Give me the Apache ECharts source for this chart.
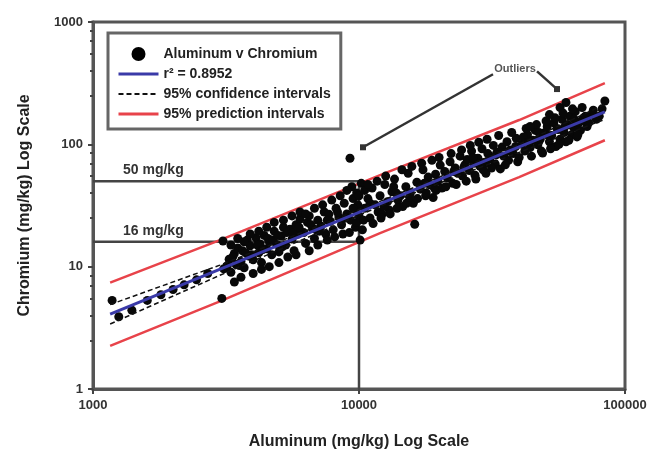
<!DOCTYPE html>
<html><head><meta charset="utf-8">
<script src="https://cdn.jsdelivr.net/npm/echarts@6/dist/echarts.min.js"></script>
<style>html,body{margin:0;padding:0;background:#fff}#c{width:650px;height:455px}</style>
</head><body><div id="c"></div>
<script>
// ---- data ----
const aluminum = [
1180,1250,1400,1600,1800,2000,2200,2450,2700,3050,3080,3100,3200,
3250,3300,3400,3450,3500,3600,3650,3700,3800,3850,3900,4000,4100,4200,4250,4300,4400,4500,4600,4700,4800,4900,5000,5100,5200,5300,5500,5600,5700,5800,5900,6000,
6200,6300,6400,6500,6700,6800,7000,7200,7400,7500,7700,7800,8000,8200,8400,8600,8800,9000,9250,9300,9400,9500,9600,9700,9800,9900,10000,10000,10100,10200,10300,10500,
10500,10800,11000,11200,11500,11800,12000,12200,12500,12800,13000,13300,13600,14000,14300,14600,15000,15300,15600,16000,16200,16500,17000,17400,17800,18200,18500,19000,19400,19800,20200,20500,
21000,21500,22000,22500,23000,23500,24000,24500,25000,25500,26000,26500,27000,27500,28000,28500,29000,29500,30000,30500,31000,32000,32500,33000,34000,34500,35000,36000,36500,37000,38000,39000,40000,
41000,42000,43000,44000,45000,46000,47000,48000,49000,50000,51000,52000,53000,54000,55000,56000,57000,57000,58000,59000,60000,60000,61000,62000,63000,64000,65000,66000,67000,68000,70000,72000,75000,78000,84000,
3300,3400,3500,3600,3700,3900,4000,4200,4300,4500,4600,4800,5000,5200,5400,5600,5800,6000,
6300,6500,6800,7000,7300,7600,7900,8100,8500,8700,9000,9200,9500,9800,
10400,10800,11300,11700,12100,12600,13100,13500,13900,14500,15100,15800,16600,17200,17900,18800,19500,20000,
21200,22200,23200,24300,25300,26200,27300,28200,29300,30300,31500,33500,35500,37500,39500,
42500,44500,46500,48500,50500,52500,54500,56500,58500,61500,63500,66500,69000,73000,76000,80000,82000,44000,52000,48000,
3350,3550,3750,3950,4150,4350,4550,4750,4950,5150,5350,5650,5950,
6600,6900,7100,7600,8300,8900,11000,12400,13800,15500,17600,19200,22700,24800,26800,29800,32800,36800,38800,41500,43500,47500,51500,55500,59500,64500,68500,71000
];
const chromium = [
5.3,3.9,4.4,5.3,5.9,6.5,7.1,7.8,8.8,5.5,16.2,9.6,10.2,
11.5,9.0,12.8,10.4,14.2,11.0,13.5,9.8,16.5,12.2,14.8,11.4,17.2,13.0,15.3,10.8,18.0,14.0,16.0,12.5,19.5,15.2,13.2,17.8,21.0,15.0,20.2,16.8,13.5,22.0,18.5,24.5,
19.0,15.5,23.0,26.0,20.5,17.0,24.0,21.5,28.0,18.5,26.8,23.5,20.0,30.0,25.5,22.0,33.0,27.0,77,24.0,45,36.0,29.5,21.0,40.0,32.0,26.0,38,16.5,48,20,42,
30,36,25,44,32,28,38,26.8,47,34,29,41,52,35,38,31,45,58,40,33,22.2,49,43,62,38,54,46.7,36.7,57,50,67.7,44,
60,53,72,48,64,58,80,55,68,75,61,88,70,52,77,66,92,71,58,84,76,98,69,86,63,95,80,105,74,90,84,112,78,
100,88,120,94,108,130,99,115,85,125,140,105,118,150,96,132,110,200,160,125,105,220,145,170,120,138,185,115,150,130,165,140,175,160,226,
15,7.5,17,8.2,16,18.5,8.8,19.5,9.5,21,10,23,10.8,24,12,26,12.5,28,
27,13.5,30,15,32,16.5,35,17.5,38,18.5,42,19,30,23,
24,47,22.5,50,25,55,27,45,30,62,33,66,36,70,40,74,42,78,
45,84,47,90,50,98,56,104,62,110,64,118,68,125,72,
135,80,145,88,155,92,165,100,180,108,195,120,200,150,190,170,195,140,175,110,
12,10.2,13,12.5,15,13.8,17,16.5,18,14.5,19,19,21,
22,20,19.5,24,28,25,33,31,40,37,48,44,60,65,78,70,82,88,96,115,105,125,118,135,140,160,155,170
];
const fitAl = [1160, 84000];
const fitCr = [4.1, 184];
const bandAl = [1160, 3000, 12000, 40000, 84000];
const confUpper = [4.9, 10.3, 34.2, 100, 212];
const confLower = [3.4, 8.5, 31.2, 86, 160];
const predUpper = [7.4, 16.5, 56, 158, 316];
const predLower = [2.25, 5.2, 18.8, 54, 108];
const refLevels = [50, 16];          // mg/kg
const refLabels = ['50 mg/kg', '16 mg/kg'];
const refAlStart = 1000, refAlEnd = 10000;
const outlierPointers = [[[31900, 374], [10350, 94.6]], [[46700, 395], [55500, 283]]];
const outlierText = 'Outliers';
const xTicks = [1000, 10000, 100000];
const yTicks = [1, 10, 100, 1000];
const legendNames = ['Aluminum v Chromium', 'r\u00B2 = 0.8952', '95% confidence intervals', '95% prediction intervals'];

// ---- chart ----
const FONT = '"Liberation Sans", Arial, sans-serif';
const pts = aluminum.map((a, i) => [a, chromium[i]]);
const toPairs = (xs, ys) => xs.map((x, i) => [x, ys[i]]);
const BLUE = '#3a3aa8', RED = '#e8434a';
const series = [];
series.push({type:'line', name:'ref50', silent:true, symbol:'none', z:1,
  data:[[refAlStart, refLevels[0]], [refAlEnd, refLevels[0]], [refAlEnd, 1]],
  lineStyle:{color:'#444', width:2.5}});
series.push({type:'line', name:'ref16', silent:true, symbol:'none', z:1,
  data:[[refAlStart, refLevels[1]], [refAlEnd, refLevels[1]]],
  lineStyle:{color:'#444', width:2.5}});
series.push({type:'line', name:legendNames[3], symbol:'none', z:2, data:toPairs(bandAl, predUpper), lineStyle:{color:RED, width:2.5}, itemStyle:{color:RED}});
series.push({type:'line', name:legendNames[3], symbol:'none', z:2, data:toPairs(bandAl, predLower), lineStyle:{color:RED, width:2.5}, itemStyle:{color:RED}});
series.push({type:'scatter', name:legendNames[0], z:3, symbol:'circle', symbolSize:9, data:pts, itemStyle:{color:'#080808', opacity:1}});
series.push({type:'line', name:legendNames[2], symbol:'none', z:4, data:toPairs(bandAl, confUpper), lineStyle:{color:'#111', width:1.5, type:[5,3]}, itemStyle:{color:'#111'}});
series.push({type:'line', name:legendNames[2], symbol:'none', z:4, data:toPairs(bandAl, confLower), lineStyle:{color:'#111', width:1.5, type:[5,3]}, itemStyle:{color:'#111'}});
series.push({type:'line', name:legendNames[1], symbol:'none', z:5, data:toPairs(fitAl, fitCr), lineStyle:{color:BLUE, width:3}, itemStyle:{color:BLUE}});
outlierPointers.forEach((p, k) => {
  series.push({type:'line', name:'ptr'+k, silent:true, z:6,
    data:[{value:p[0], symbol:'none'}, {value:p[1], symbol:'rect', symbolSize:6}],
    lineStyle:{color:'#333', width:2.5}, itemStyle:{color:'#333'}});
});

const noSym = {color:'rgba(0,0,0,0)', borderWidth:0, opacity:0};
const chart = echarts.init(document.getElementById('c'), null, {renderer:'canvas'});
chart.setOption({
  animation:false,
  backgroundColor:'#fff',
  textStyle:{fontFamily:FONT},
  grid:{left:93, right:25, top:22, bottom:63, show:true, borderColor:'#555', borderWidth:3, backgroundColor:'transparent'},
  legend:{orient:'vertical', left:108, top:33, padding:[14,10,8,9], itemGap:6, itemWidth:40, itemHeight:14,
    backgroundColor:'#fff', borderColor:'#666', borderWidth:3,
    textStyle:{fontFamily:FONT, fontSize:14, fontWeight:'bold', color:'#222'},
    data:[{name:legendNames[0], icon:'circle', itemStyle:{color:'#000'}},
          {name:legendNames[1], itemStyle:noSym, lineStyle:{color:BLUE, width:3}},
          {name:legendNames[2], itemStyle:noSym, lineStyle:{color:'#111', width:2, type:[5,3]}},
          {name:legendNames[3], itemStyle:noSym, lineStyle:{color:RED, width:3}}]},
  xAxis:{type:'log', logBase:10, min:xTicks[0], max:xTicks[xTicks.length-1],
    name:'Aluminum (mg/kg) Log Scale', nameLocation:'middle', nameGap:45,
    nameTextStyle:{fontFamily:FONT, fontSize:16, fontWeight:'bold', color:'#222'},
    axisLine:{lineStyle:{color:'#555', width:3}},
    axisTick:{show:true, length:5, lineStyle:{color:'#444', width:2}},
    splitLine:{show:false},
    axisLabel:{fontFamily:FONT, fontSize:13, fontWeight:'bold', color:'#333', margin:10, formatter:v => String(Math.round(v))}},
  yAxis:{type:'log', logBase:10, min:yTicks[0], max:yTicks[yTicks.length-1],
    name:'Chromium (mg/kg) Log Scale', nameLocation:'middle', nameGap:60,
    nameTextStyle:{fontFamily:FONT, fontSize:16, fontWeight:'bold', color:'#222'},
    axisLine:{lineStyle:{color:'#555', width:3}},
    axisTick:{show:true, length:5, lineStyle:{color:'#444', width:2}},
    minorTick:{show:true, splitNumber:6, length:3, lineStyle:{color:'#444', width:2}},
    splitLine:{show:false}, minorSplitLine:{show:false},
    axisLabel:{fontFamily:FONT, fontSize:13, fontWeight:'bold', color:'#333', margin:10, formatter:v => String(Math.round(v))}},
  series:series
});

function place(){
  const g = [];
  refLevels.forEach((lv, i) => {
    const p = chart.convertToPixel({gridIndex:0}, [refAlStart, lv]);
    g.push({type:'text', left:p[0]+30, top:p[1]-18, style:{text:refLabels[i], font:'bold 14px '+FONT, fill:'#333'}});
  });
  const p0 = outlierPointers[0][0], p1 = outlierPointers[1][0];
  const a = chart.convertToPixel({gridIndex:0}, p0), b = chart.convertToPixel({gridIndex:0}, p1);
  g.push({type:'text', x:(a[0]+b[0])/2, y:(a[1]+b[1])/2 - 4, style:{text:outlierText, font:'bold 11px '+FONT, fill:'#555', align:'center', verticalAlign:'middle'}});
  chart.setOption({graphic:g});
}
place();
</script>
</body></html>
